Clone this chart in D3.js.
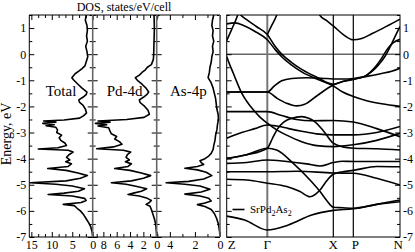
<!DOCTYPE html>
<html>
<head>
<meta charset="utf-8">
<script src="https://cdn.jsdelivr.net/npm/d3@7"></script>
<style>
  body { margin: 0; background: #fff; }
  text { font-family: "Liberation Serif", "Times New Roman", serif; }
</style>
</head>
<body>
<div id="chart"></div>
<script>
// ---------- data ----------
const energyMajor = [-7, -6, -5, -4, -3, -2, -1, 0, 1];
const energyMinor = [-6.5, -5.5, -4.5, -3.5, -2.5, -1.5, -0.5, 0.5, 1.5];

const dosNames = ['Total', 'Pd-4d', 'As-4p'];
const dosTicks = [[15, 10, 5, 0], [8, 6, 4, 2, 0], [4, 2, 0]];
const dosMinorTicks = [[13.33, 11.67, 8.33, 6.67, 3.33, 1.67], [9, 7, 5, 3, 1], [5, 3, 1]];

// [energy, states/eV/cell]
const totalDos = [[1.5,1.6],[1.3,1.8],[1.1,1.4],[0.9,1.3],[0.7,1.5],[0.5,1.3],[0.3,1.7],[0.1,1.4],[-0.1,1.2],[-0.3,1.6],
  [-0.45,1.9],[-0.55,2.6],[-0.65,3.4],[-0.75,4.3],[-0.9,5.1],[-1.0,4.6],[-1.15,3.6],[-1.3,2.6],[-1.45,1.4],[-1.55,1.6],
  [-1.65,2.4],[-1.75,3.4],[-1.85,3.2],[-1.95,2.4],[-2.1,1.8],[-2.25,1.5],[-2.35,2.2],[-2.45,3.2],[-2.52,7.0],[-2.56,12.0],
  [-2.6,9.0],[-2.65,12.2],[-2.7,9.4],[-2.74,11.4],[-2.8,9.0],[-2.9,8.6],[-3.0,8.8],[-3.1,7.6],[-3.2,8.2],[-3.3,7.8],
  [-3.4,6.8],[-3.5,6.4],[-3.58,8.5],[-3.63,13.3],[-3.68,6.0],[-3.75,4.8],[-3.85,5.8],[-3.95,6.4],[-4.05,5.6],[-4.12,6.6],
  [-4.2,5.2],[-4.3,6.0],[-4.38,11.0],[-4.45,6.5],[-4.55,3.6],[-4.65,1.3],[-4.75,3.0],[-4.85,6.5],[-4.92,15.3],[-4.98,9.0],
  [-5.05,5.0],[-5.15,2.0],[-5.25,3.5],[-5.32,7.0],[-5.37,10.9],[-5.43,5.0],[-5.52,2.0],[-5.6,1.6],[-5.68,2.8],[-5.75,7.2],
  [-5.8,4.5],[-5.9,3.8],[-6.0,3.0],[-6.15,2.2],[-6.3,1.6],[-6.45,1.0],[-6.6,0.5],[-6.8,0.15],[-7.0,0]];

const pdDos = [[1.5,0.4],[1.0,0.35],[0.5,0.4],[0.0,0.45],[-0.2,0.5],[-0.4,0.8],[-0.5,1.4],[-0.6,1.7],[-0.7,2.2],[-0.8,2.6],
  [-0.9,3.2],[-1.0,2.9],[-1.15,2.2],[-1.3,1.6],[-1.45,1.2],[-1.55,1.5],[-1.65,2.0],[-1.75,2.6],[-1.85,2.5],[-2.0,1.8],
  [-2.15,1.3],[-2.3,1.1],[-2.42,1.9],[-2.5,4.5],[-2.56,8.8],[-2.6,7.0],[-2.65,9.2],[-2.7,7.5],[-2.75,8.8],[-2.82,7.2],
  [-2.95,7.0],[-3.05,6.8],[-3.15,6.0],[-3.25,6.3],[-3.35,5.6],[-3.45,5.2],[-3.55,6.5],[-3.62,9.0],[-3.68,5.0],[-3.75,3.9],
  [-3.85,4.4],[-3.95,4.6],[-4.05,4.1],[-4.12,4.7],[-4.2,3.8],[-4.3,4.3],[-4.38,6.3],[-4.45,4.0],[-4.55,2.3],[-4.65,0.9],
  [-4.75,2.0],[-4.85,3.8],[-4.92,6.8],[-4.98,4.6],[-5.05,3.3],[-5.15,1.5],[-5.25,2.3],[-5.32,3.5],[-5.37,4.3],[-5.43,2.6],
  [-5.52,1.4],[-5.6,0.8],[-5.68,1.1],[-5.75,1.6],[-5.82,1.0],[-5.95,0.8],[-6.1,0.6],[-6.3,0.35],[-6.5,0.15],[-6.8,0.05],[-7.0,0]];

const asDos = [[1.5,0.5],[1.3,0.6],[1.1,0.65],[0.9,0.55],[0.7,0.6],[0.5,0.5],[0.3,0.6],[0.1,0.55],[-0.1,0.65],[-0.3,0.7],
  [-0.5,0.8],[-0.7,0.85],[-0.9,0.95],[-1.1,0.7],[-1.3,0.55],[-1.5,0.45],[-1.7,0.35],[-1.9,0.3],[-2.1,0.25],[-2.3,0.15],
  [-2.5,0.12],[-2.7,0.2],[-2.9,0.25],[-3.1,0.35],[-3.3,0.4],[-3.5,0.5],[-3.65,0.55],[-3.8,0.7],[-3.9,0.9],[-4.0,1.2],
  [-4.08,1.6],[-4.15,1.5],[-4.22,1.3],[-4.3,1.8],[-4.37,2.8],[-4.43,1.8],[-4.52,1.1],[-4.65,0.65],[-4.78,1.3],[-4.87,2.5],
  [-4.92,4.3],[-4.98,2.8],[-5.05,1.6],[-5.17,0.8],[-5.28,1.5],[-5.36,2.8],[-5.43,1.6],[-5.52,0.9],[-5.62,0.7],[-5.7,1.2],
  [-5.76,1.8],[-5.83,1.2],[-5.95,0.7],[-6.1,0.45],[-6.3,0.26],[-6.5,0.13],[-6.8,0.03],[-7.0,0]];

// band structure, k along Z-G-X-P-N path
const kLabels = ['Z', 'Γ', 'X', 'P', 'N'];
const kPos = [0, 40.6, 106.6, 126.6, 173.3];

const bands = [
  [[0,0.52],[5,0.95],[11,1.5],[16,2.2],[173.3,2.2]],
  [[40.6,0.75],[45,1.1],[50,1.5],[55,2.2],[88,2.2],[93,1.5],[100,1.28],[106.6,1.08],[116.6,0.75],[126.6,0.55],[135,0.6],[145,0.78],[155,0.97],[165,1.17],[173.3,1.34]],
  [[0,1.16],[8,1.2],[18,1.08],[28,0.88],[40.6,0.55],[48,0.2],[55,-0.1],[65,-0.42],[75,-0.68],[90,-0.95],[106.6,-1.22],[116,-1.45],[126.6,-1.62],[140,-1.78],[155,-1.9],[173.3,-2.0]],
  [[5,2.2],[12,1.6],[20,1.32],[30,1.05],[40.6,0.75],[48,0.32],[55,0.0],[65,-0.32],[75,-0.58],[90,-0.88],[106.6,-1.15],[116,-1.05],[126.6,-0.95],[138,-0.85],[145,-0.67],[152,-0.4],[158,-0.1],[163,0.25],[168.3,0.67],[173.3,1.06]],
  [[0,-1.45],[40.6,-1.45],[48,-1.2],[55,-1.02],[65,-0.93],[80,-0.9],[95,-0.92],[106.6,-0.95],[116,-0.95],[126.6,-0.93],[140,-0.85],[155,-0.74],[165,-0.65],[173.3,-0.54]],
  [[0,-1.45],[40.6,-1.45],[50,-1.68],[60,-1.88],[70,-1.98],[78,-1.92],[90,-1.6],[106.6,-1.18],[116,-1.05],[126.6,-0.97],[140,-0.8],[148.3,-0.5],[155,-0.15],[161.7,0.25],[167,0.45],[173.3,0.57]],
  [[0,-0.09],[3,-0.4],[6.6,-0.73],[10,-1.05],[15,-1.49],[20,-1.8],[26.6,-2.13],[33,-2.4],[40.6,-2.64],[50,-2.9],[60,-3.1],[75,-3.35],[90,-3.5],[106.6,-3.54],[126.6,-3.47],[150,-3.3],[173.3,-3.03]],
  [[0,-2.2],[40.6,-2.2],[55,-2.35],[70,-2.5],[85,-2.55],[106.6,-2.54],[126.6,-2.6],[150,-2.85],[173.3,-3.16]],
  [[0,-3.22],[15,-3.0],[28,-2.85],[40.6,-2.71],[50,-2.75],[62,-2.85],[75,-2.95],[90,-3.05],[106.6,-3.09],[126.6,-3.09],[150,-3.0],[173.3,-2.77]],
  [[0,-3.99],[20,-3.85],[40.6,-3.6],[46,-3.2],[51,-2.85],[57,-2.6],[65,-2.45],[75,-2.39],[82,-2.45],[88,-2.58],[97,-2.95],[106.6,-3.41],[116,-3.55],[126.6,-3.6],[150,-3.62],[173.3,-3.67]],
  [[0,-3.99],[20,-3.85],[40.6,-3.6],[50,-3.67],[66.6,-4.18],[83.3,-4.82],[93.3,-5.26],[100,-5.6],[106.6,-5.86],[116,-5.88],[126.6,-5.9],[150,-5.75],[173.3,-5.65]],
  [[0,-4.18],[20,-4.15],[40.6,-4.05],[60,-4.11],[80,-4.2],[93.3,-4.28],[106.6,-4.15],[116,-4.1],[126.6,-4.11],[150,-4.11],[173.3,-4.11]],
  [[0,-4.5],[40.6,-4.5],[70,-4.48],[106.6,-4.55],[126.6,-4.56],[150,-4.75],[173.3,-5.01]],
  [[0,-4.79],[20,-4.82],[40.6,-4.94],[60,-5.07],[73.3,-5.26],[83.3,-5.46],[93.3,-5.2],[100,-4.85],[106.6,-4.6],[116,-4.5],[126.6,-4.45],[150,-4.3],[173.3,-4.31]],
  [[0,-6.2],[18,-6.35],[40.6,-6.73],[61.6,-6.54],[85,-6.16],[106.6,-5.98],[126.6,-5.92],[150,-5.75],[173.3,-5.58]]
];

// ---------- layout ----------
const width = 415, height = 252;
const plotTop = 15, plotBottom = 237;
const font = '"Liberation Serif", "Times New Roman", serif';

const svg = d3.select('#chart').append('svg')
  .attr('width', width)
  .attr('height', height);

const y = d3.scaleLinear().domain([-7, 1.5]).range([plotBottom, plotTop]);

// styling for axis groups
function tidy(g, size) {
  g.select('.domain').remove();
  g.attr('font-family', font).attr('font-size', size || 12).attr('color', '#000');
  g.selectAll('line').attr('stroke-width', 1);
}

// ---------- DOS panels ----------
const panels = [
  { data: totalDos, max: 15.5, x0: 29.3, x1: 92.7 },
  { data: pdDos, max: 9.6, x0: 92.7, x1: 156.7 },
  { data: asDos, max: 5.05, x0: 156.7, x1: 220 }
];

panels.forEach((p, i) => {
  const x = d3.scaleLinear().domain([p.max, 0]).range([p.x0, p.x1]);
  const g = svg.append('g').attr('class', 'dos');

  // bottom / top ticks
  g.append('g').attr('transform', `translate(0,${plotBottom})`)
    .call(d3.axisBottom(x).tickValues(dosTicks[i]).tickSize(-5).tickPadding(3).tickFormat(d3.format('d')))
    .call(tidy);
  g.append('g').attr('transform', `translate(0,${plotBottom})`)
    .call(d3.axisBottom(x).tickValues(dosMinorTicks[i]).tickSize(-3).tickFormat(''))
    .call(tidy);
  g.append('g').attr('transform', `translate(0,${plotTop})`)
    .call(d3.axisTop(x).tickValues(dosTicks[i]).tickSize(-5).tickFormat(''))
    .call(tidy);
  g.append('g').attr('transform', `translate(0,${plotTop})`)
    .call(d3.axisTop(x).tickValues(dosMinorTicks[i]).tickSize(-3).tickFormat(''))
    .call(tidy);

  // left / right energy ticks (inward)
  g.append('g').attr('transform', `translate(${p.x0},0)`)
    .call(d3.axisLeft(y).tickValues(energyMajor).tickSize(-5).tickPadding(3)
      .tickFormat(i === 0 ? (d => String(d)) : ''))
    .call(tidy);
  g.append('g').attr('transform', `translate(${p.x0},0)`)
    .call(d3.axisLeft(y).tickValues(energyMinor).tickSize(-3).tickFormat(''))
    .call(tidy);
  g.append('g').attr('transform', `translate(${p.x1},0)`)
    .call(d3.axisRight(y).tickValues(energyMajor).tickSize(-5).tickFormat(''))
    .call(tidy);
  g.append('g').attr('transform', `translate(${p.x1},0)`)
    .call(d3.axisRight(y).tickValues(energyMinor).tickSize(-3).tickFormat(''))
    .call(tidy);

  // curve
  g.append('path')
    .datum(p.data)
    .attr('fill', 'none')
    .attr('stroke', '#000')
    .attr('stroke-width', 1.6)
    .attr('stroke-linejoin', 'round')
    .attr('d', d3.line().x(d => x(d[1])).y(d => y(d[0])));

  // label
  g.append('text')
    .attr('x', (p.x0 + p.x1) / 2)
    .attr('y', 96)
    .attr('text-anchor', 'middle')
    .attr('font-size', 15)
    .text(dosNames[i]);
});

// frames of the DOS block
svg.append('line').attr('x1', 29.3).attr('x2', 220).attr('y1', plotTop).attr('y2', plotTop).attr('stroke', '#000');
svg.append('line').attr('x1', 29.3).attr('x2', 220).attr('y1', plotBottom).attr('y2', plotBottom).attr('stroke', '#000');
svg.append('line').attr('x1', 29.3).attr('x2', 29.3).attr('y1', plotTop).attr('y2', plotBottom).attr('stroke', '#000');
svg.selectAll('.divider')
  .data(panels.map(p => p.x1))
  .enter()
  .append('line')
  .attr('class', 'divider')
  .attr('x1', d => d).attr('x2', d => d)
  .attr('y1', plotTop).attr('y2', plotBottom)
  .attr('stroke', '#666')
  .attr('stroke-width', 1.6);

// title and y label
svg.append('text')
  .attr('x', 124).attr('y', 11)
  .attr('text-anchor', 'middle')
  .attr('font-size', 12)
  .text('DOS, states/eV/cell');

svg.append('text')
  .attr('transform', `translate(11,${(plotTop + plotBottom) / 2 + 8}) rotate(-90)`)
  .attr('text-anchor', 'middle')
  .attr('font-size', 14)
  .text('Energy, eV');

// ---------- band structure ----------
const xk = d3.scaleLinear().domain([0, 173.3]).range([226.7, 400]);
const bandG = svg.append('g').attr('class', 'bands');

svg.append('clipPath').attr('id', 'band-clip')
  .append('rect')
  .attr('x', xk(0)).attr('y', plotTop)
  .attr('width', xk(173.3) - xk(0)).attr('height', plotBottom - plotTop);

// Fermi level
bandG.append('line')
  .attr('x1', xk(0)).attr('x2', xk(173.3))
  .attr('y1', y(0)).attr('y2', y(0))
  .attr('stroke', '#666').attr('stroke-width', 1.6);

// high-symmetry lines
bandG.selectAll('.kline')
  .data(kPos.slice(1, 4))
  .enter()
  .append('line')
  .attr('class', 'kline')
  .attr('x1', d => xk(d)).attr('x2', d => xk(d))
  .attr('y1', plotTop).attr('y2', plotBottom)
  .attr('stroke', (d, i) => (i === 0 ? '#777' : '#000'))
  .attr('stroke-width', (d, i) => (i === 0 ? 2 : 1.2));

const bandLine = d3.line()
  .x(d => xk(d[0]))
  .y(d => y(d[1]))
  .curve(d3.curveMonotoneX);

bandG.append('g')
  .attr('clip-path', 'url(#band-clip)')
  .selectAll('path')
  .data(bands)
  .enter()
  .append('path')
  .attr('fill', 'none')
  .attr('stroke', '#000')
  .attr('stroke-width', 1.6)
  .attr('d', bandLine);

// energy ticks on both sides, labels on the right
bandG.append('g').attr('transform', `translate(${xk(0)},0)`)
  .call(d3.axisLeft(y).tickValues(energyMajor).tickSize(-5).tickFormat(''))
  .call(tidy);
bandG.append('g').attr('transform', `translate(${xk(0)},0)`)
  .call(d3.axisLeft(y).tickValues(energyMinor).tickSize(-3).tickFormat(''))
  .call(tidy);
bandG.append('g').attr('transform', `translate(${xk(173.3)},0)`)
  .call(d3.axisRight(y).tickValues(energyMajor).tickSize(-5).tickPadding(3).tickFormat(d => String(d)))
  .call(tidy);
bandG.append('g').attr('transform', `translate(${xk(173.3)},0)`)
  .call(d3.axisRight(y).tickValues(energyMinor).tickSize(-3).tickFormat(''))
  .call(tidy);

// frame
bandG.append('rect')
  .attr('x', xk(0)).attr('y', plotTop)
  .attr('width', xk(173.3) - xk(0)).attr('height', plotBottom - plotTop)
  .attr('fill', 'none').attr('stroke', '#000');

// k-point labels
bandG.selectAll('.klabel')
  .data(kLabels)
  .enter()
  .append('text')
  .attr('class', 'klabel')
  .attr('x', (d, i) => xk(kPos[i]))
  .attr('y', 249)
  .attr('font-size', 13)
  .attr('text-anchor', (d, i) => (i === 0 ? 'start' : i === kLabels.length - 1 ? 'end' : 'middle'))
  .attr('dx', (d, i) => (i === 0 ? 1 : i === 3 ? 2 : i === 4 ? 3 : 0))
  .text(d => d);

// legend
const legend = bandG.append('g').attr('class', 'legend');
legend.append('line')
  .attr('x1', 232.5).attr('x2', 244.5)
  .attr('y1', 209.5).attr('y2', 209.5)
  .attr('stroke', '#000').attr('stroke-width', 1.6);
const lt = legend.append('text').attr('x', 250).attr('y', 213).attr('font-size', 11);
lt.append('tspan').text('SrPd');
lt.append('tspan').attr('font-size', 8).attr('dy', 3).text('2');
lt.append('tspan').attr('dy', -3).text('As');
lt.append('tspan').attr('font-size', 8).attr('dy', 3).text('2');
</script>
</body>
</html>
